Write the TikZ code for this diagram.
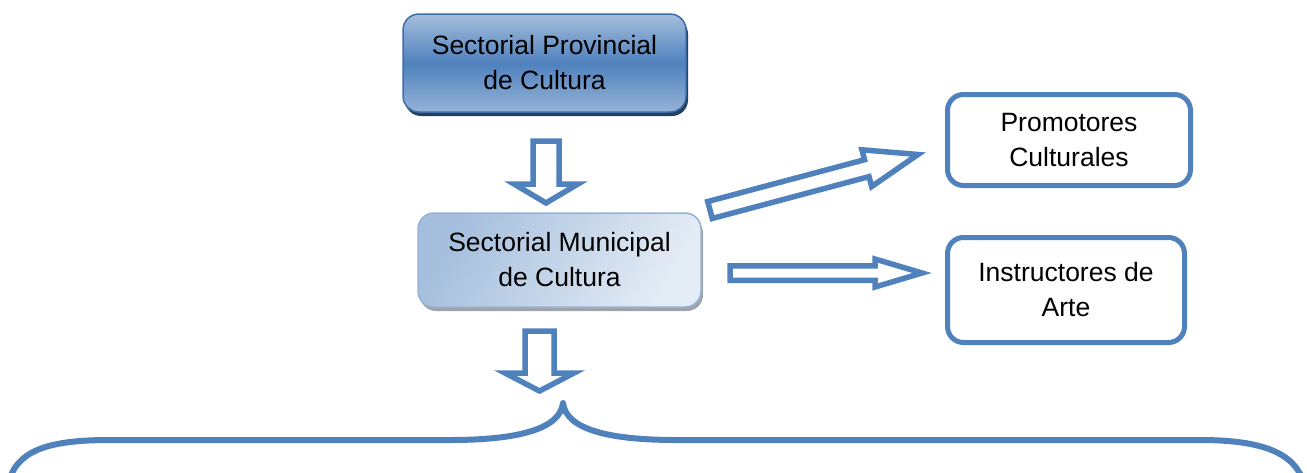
\documentclass[tikz,border=0pt]{standalone}
\usepackage{fontspec}
\setmainfont{Liberation Sans}
\usetikzlibrary{positioning, calc, shadows}

\definecolor{azul}{HTML}{4F81BD}
\definecolor{azulclaro}{HTML}{95B3D7}
\definecolor{azulborde}{HTML}{3E6DA8}
\definecolor{sombraazul}{HTML}{243F60}
\definecolor{sombragris}{HTML}{A0A4AA}

% block arrow: tail, tip, shaft half width, head half width, head length
\newcommand\blockarrow[5]{%
  \coordinate (hb) at ($(#2)!#5!(#1)$);
  \draw[flecha] ($(#1)!#3!90:(#2)$) -- ($(hb)!#3!-90:(#1)$) -- ($(hb)!#4!-90:(#1)$)
    -- (#2) -- ($(hb)!#4!90:(#1)$) -- ($(hb)!#3!90:(#1)$) -- ($(#1)!#3!-90:(#2)$) -- cycle;
}

\tikzset{
  caja/.style={rounded corners=16pt, align=center, inner sep=0pt,
    font=\fontsize{26.5}{35}\selectfont},
  flecha/.style={draw=azul, line width=5.5pt, fill=white, line join=miter},
  llave/.style={draw=azul, line width=6pt, line join=round, line cap=butt},
}

\begin{document}
\begin{tikzpicture}[x=1pt, y=-1pt, on grid]
    \useasboundingbox (0,0) rectangle (1307,472);

    \node (prov) [caja, draw=azulborde, line width=1.5pt,
        top color=azulclaro!85!white, bottom color=azulclaro, middle color=azul,
        drop shadow={shadow xshift=2pt, shadow yshift=-4pt, fill=sombraazul, opacity=1},
        minimum width=283pt, minimum height=98pt] at (544.5,63)
        {Sectorial Provincial\\de Cultura};
    \node (muni) [caja, draw=azulclaro, line width=1.5pt,
        left color=azulclaro!85!white, right color=azulclaro!25!white, shading angle=60,
        drop shadow={shadow xshift=2pt, shadow yshift=-4pt, fill=sombragris, opacity=1},
        minimum width=283pt, minimum height=94pt, below right=197pt and 15pt of prov]
        {Sectorial Municipal\\de Cultura};
    \node (promo) [caja, draw=azul, line width=5pt, fill=white,
        minimum width=243pt, minimum height=91pt] at (1069,140)
        {Promotores\\Culturales};
    \node (instr) [caja, draw=azul, line width=5pt, fill=white,
        minimum width=237pt, minimum height=105pt] at (1066,290)
        {Instructores de\\Arte};

    \coordinate (a1t) at (546,141);   \coordinate (a1h) at (546,203);
    \coordinate (a2t) at (539.5,331); \coordinate (a2h) at (539.5,391);
    \coordinate (a3t) at (710,210);   \coordinate (a3h) at (918,154.5);
    \coordinate (a4t) at (730,273);   \coordinate (a4h) at (922,273);

    \blockarrow{a1t}{a1h}{13pt}{32pt}{19pt}
    \blockarrow{a2t}{a2h}{14.5pt}{34.5pt}{18pt}
    \blockarrow{a3t}{a3h}{8.75pt}{19pt}{53pt}
    \blockarrow{a4t}{a4h}{7.25pt}{14pt}{47pt}

    % brace
    \draw[llave] (10,478) .. controls (20,448) and (55,440) .. (110,440) -- (450,440)
        .. controls (515,440) and (560,430) .. (563,403)
        .. controls (566,430) and (611,440) .. (676,440) -- (1200,440)
        .. controls (1250,440) and (1290,448) .. (1302,478);
\end{tikzpicture}
\end{document}
